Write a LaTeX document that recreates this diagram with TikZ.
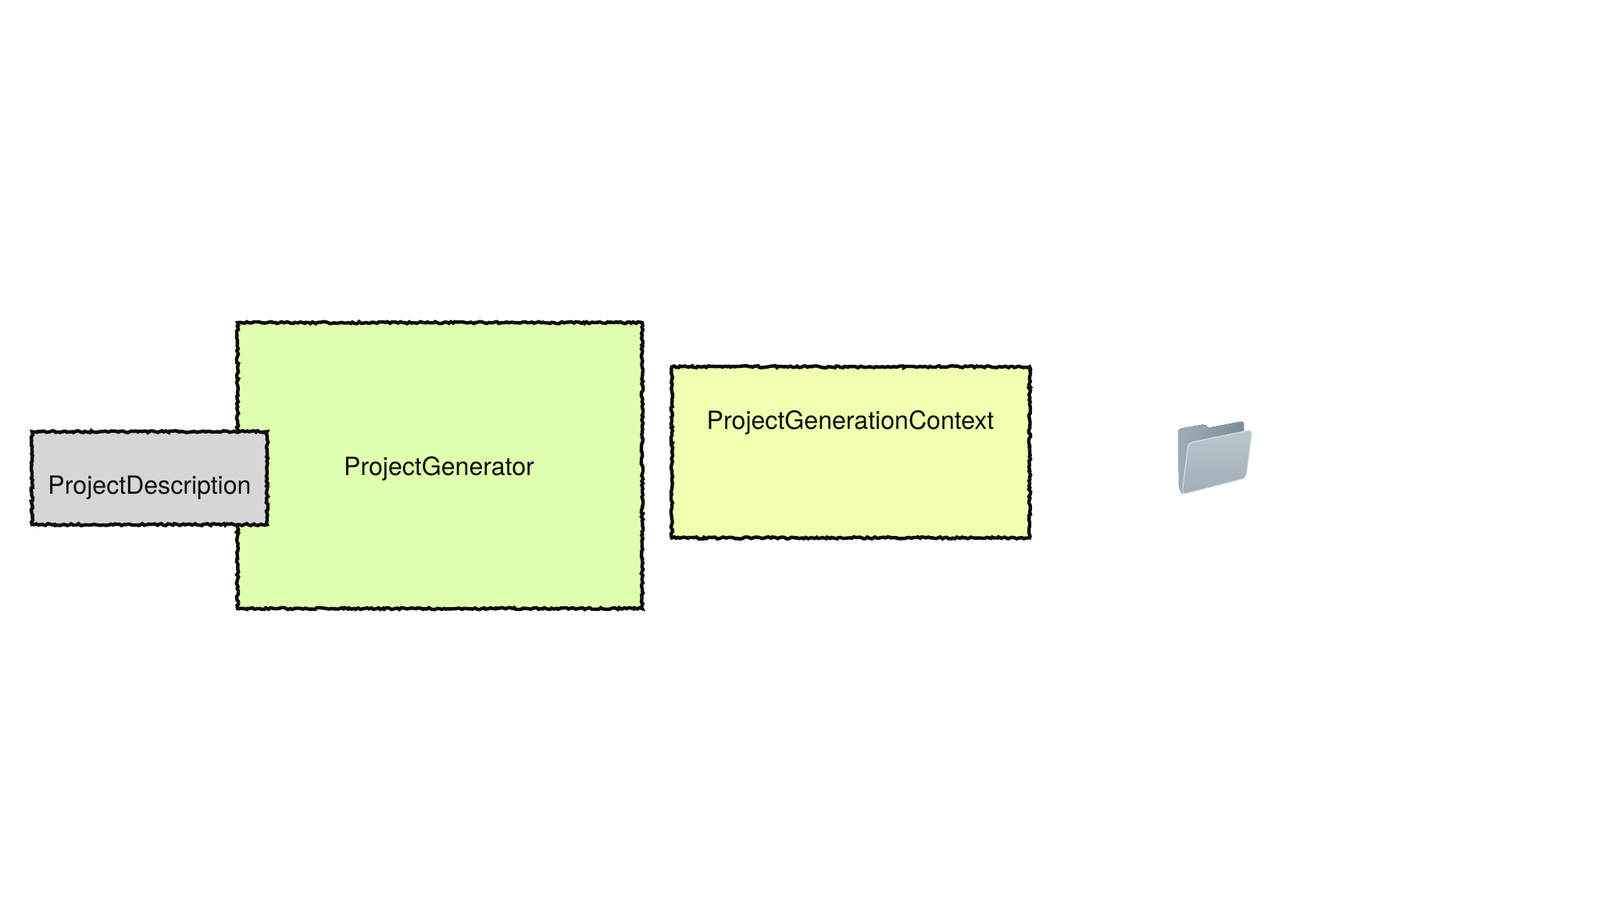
\documentclass[tikz,border=0pt]{standalone}
\usepackage{fontspec}
\setmainfont{TeX Gyre Heros}
\usetikzlibrary{decorations.pathmorphing}
\definecolor{generatorgreen}{HTML}{E0FFAE}
\definecolor{contextyellow}{HTML}{F1FFB0}
\definecolor{descriptiongray}{HTML}{D6D6D6}
\definecolor{folderdark}{HTML}{7C8E9B}
\definecolor{foldermid}{HTML}{A0AEB7}
\definecolor{folderlight}{HTML}{BCC7CF}
\tikzstyle{sketchbox}=[draw=black!95,line width=1.25pt,inner sep=0pt,decorate,decoration={random steps,segment length=0.8pt,amplitude=0.35pt}]
\tikzstyle{caption}=[inner sep=0pt,font=\fontsize{9.13}{11}\selectfont,text=black!95]
\tikzstyle{folderback}=[left color=foldermid,right color=folderdark,rounded corners=1pt]
\tikzstyle{folderfront}=[top color=folderlight,bottom color=foldermid,draw=folderlight!50!white,line width=0.3pt,rounded corners=1.5pt]

\begin{document}
\begin{tikzpicture}
                  \useasboundingbox (0,0) rectangle (20.48,11.52);

                  \node (generator) at (5.63,5.56) [sketchbox,fill=generatorgreen,minimum width=5.18cm,minimum height=3.66cm] {};
                  \node (description) at (1.915,5.40) [sketchbox,fill=descriptiongray,minimum width=3.01cm,minimum height=1.19cm] {};
                  \node (context) at (10.89,5.73) [sketchbox,fill=contextyellow,minimum width=4.58cm,minimum height=2.19cm] {};

                  \node (generatorname) at (5.62,5.52) [caption] {ProjectGenerator};
                  \node (descriptionname) at (1.915,5.28) [caption] {ProjectDescription};
                  \node (contextname) at (10.885,6.11) [caption] {ProjectGenerationContext};

                  \fill [folderback] (15.08,6.03) -- (15.43,6.09) -- (15.45,6.04) -- (15.92,6.13) -- (15.92,5.5) -- (15.13,5.19) -- (15.09,5.29) -- cycle;
                  \draw [folderfront] (15.21,5.85) -- (16.03,6.02) -- (15.95,5.40) -- (15.13,5.19) -- cycle;
\end{tikzpicture}
\end{document}
